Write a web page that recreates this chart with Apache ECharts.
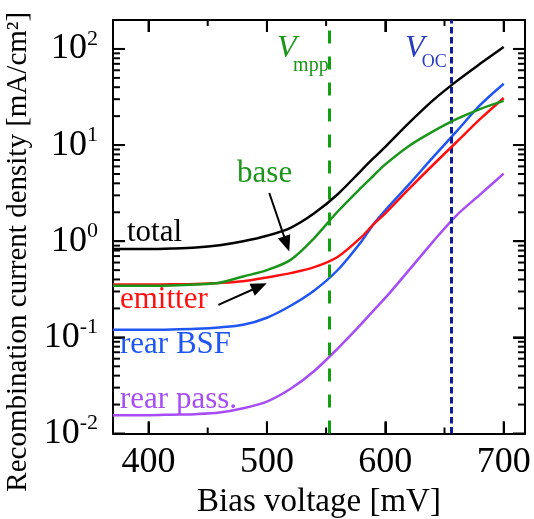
<!DOCTYPE html>
<html>
<head>
<meta charset="utf-8">
<script src="https://cdn.jsdelivr.net/npm/echarts@6/dist/echarts.min.js"></script>
<style>
html,body{margin:0;padding:0;background:#fff;}
#chart{width:534px;height:519px;}
</style>
</head>
<body>
<div id="chart"></div>
<script>
// ---- data ----
const voltage  = [370, 400, 420, 440, 460, 480, 500, 520, 540, 560, 580, 590, 600, 620, 640, 660, 680, 700];
const total    = [0.83, 0.83, 0.84, 0.86, 0.91, 1.0, 1.14, 1.38, 1.95, 3.1, 5.5, 7.3, 9.6, 17.0, 29, 46, 70, 105];
const base     = [0.345, 0.345, 0.347, 0.355, 0.37, 0.43, 0.5, 0.64, 1.08, 2.05, 3.65, 4.8, 6.3, 9.8, 13.8, 18.6, 23.7, 28.8];
const emitter  = [0.355, 0.355, 0.357, 0.36, 0.368, 0.383, 0.42, 0.466, 0.537, 0.69, 1.11, 1.5, 1.95, 3.5, 6.17, 10.7, 18.6, 30.9];
const rearBSF  = [0.12, 0.12, 0.121, 0.123, 0.127, 0.135, 0.16, 0.213, 0.307, 0.505, 1.0, 1.5, 2.1, 3.9, 7.4, 13.8, 26, 43.5];
const rearPass = [0.0155, 0.0155, 0.0157, 0.0159, 0.0165, 0.0183, 0.0215, 0.0292, 0.0447, 0.077, 0.139, 0.19, 0.257, 0.50, 0.98, 1.85, 3.05, 5.05];

const vMpp = 552.7;   // mV
const vOC  = 656;     // mV

const xMajorTicks = [400, 500, 600, 700];
const xMinorTicks = [450, 550, 650];
const yMajorTicks = [0.01, 0.1, 1, 10, 100];
const yMinorTicks = [];
[0.01, 0.1, 1, 10].forEach(d => { for (let k = 2; k <= 9; k++) yMinorTicks.push(+(d * k).toPrecision(3)); });

const curveNames = ['total', 'base', 'emitter', 'rear BSF', 'rear pass.'];
// annotation anchors in data coordinates [mV, current density]
const curveLabelAt = [[381.8, 1.21], [474.8, 4.97], [375.9, 0.248], [375.9, 0.0845], [375.9, 0.0226]];
const vTexts = [
  { text: 'V',   at: [508.5, 100],  size: 32, italic: true,  color: '#1b961b' },
  { text: 'mpp', at: [522.1, 67.6], size: 20, italic: false, color: '#1b961b' },
  { text: 'V',   at: [616.6, 100],  size: 32, italic: true,  color: '#2a3cc0' },
  { text: 'OC',  at: [630.8, 72.8], size: 18, italic: false, color: '#2a3cc0' }
];
const baseArrow = [[502.0, 3.17], [516.7, 0.935]];
const emitterArrow = [[459.0, 0.218], [493.7, 0.338]];

// ---- styling ----
const FONT = 'Liberation Serif';
const colors = ['#000000', '#1b961b', '#ff1010', '#1f55f2', '#a64df5'];
const seriesData = [total, base, emitter, rearBSF, rearPass];

const XMIN = 370, XMAX = 718, YMIN = 0.01, YMAX = 200;
const MAJOR_LEN = 12, MINOR_LEN = 7;

function xAxisCfg(pos, showLabel) {
  return {
    type: 'value', position: pos, min: XMIN, max: XMAX,
    axisLine: { show: true, onZero: false, lineStyle: { color: '#000', width: 2 } },
    axisTick: { show: true, inside: true, length: MAJOR_LEN, customValues: xMajorTicks, lineStyle: { color: '#000', width: 2 } },
    axisLabel: showLabel ? { show: true, customValues: xMajorTicks, margin: 11, fontSize: 36, fontFamily: FONT, color: '#000' } : { show: false },
    splitLine: { show: false },
    name: showLabel ? 'Bias voltage [mV]' : '',
    nameLocation: 'middle', nameGap: 50,
    nameTextStyle: { fontSize: 33, fontFamily: FONT, color: '#000' }
  };
}
function yAxisCfg(pos, showLabel) {
  return {
    type: 'log', logBase: 10, position: pos, min: YMIN, max: YMAX,
    axisLine: { show: true, onZero: false, lineStyle: { color: '#000', width: 2 } },
    axisTick: { show: true, inside: true, length: MAJOR_LEN, customValues: yMajorTicks, lineStyle: { color: '#000', width: 2 } },
    axisLabel: showLabel ? {
      show: true, customValues: yMajorTicks, margin: 15,
      formatter: v => '{b|10}{s|' + Math.round(Math.log10(v)) + '}',
      rich: {
        b: { fontSize: 36, fontFamily: FONT, color: '#000', lineHeight: 42, verticalAlign: 'middle' },
        s: { fontSize: 22, fontFamily: FONT, color: '#000', lineHeight: 22, verticalAlign: 'top' }
      }
    } : { show: false },
    splitLine: { show: false }, minorTick: { show: false },
    name: showLabel ? 'Recombination current density [mA/cm²]' : '',
    nameLocation: 'middle', nameGap: 68, nameRotate: 90,
    nameTextStyle: { fontSize: 29, fontFamily: FONT, color: '#000', padding: [0, 50, 0, 0] }
  };
}

// all tick marks (inside, mirrored on the four sides), placed through the axes' scales
const tickData = [];
xMajorTicks.forEach(v => tickData.push([v, YMIN, MAJOR_LEN, 0]));
xMinorTicks.forEach(v => tickData.push([v, YMIN, MINOR_LEN - 1, 0]));
yMajorTicks.forEach(v => tickData.push([XMIN, v, MAJOR_LEN, 1]));
yMinorTicks.forEach(v => tickData.push([XMIN, v, MINOR_LEN, 1]));

function vTextLabel(t) {
  return { show: true, formatter: t.text, position: 'inside', align: 'left', verticalAlign: 'middle',
           color: t.color, fontSize: t.size, fontStyle: t.italic ? 'italic' : 'normal', fontFamily: FONT };
}

function buildOption(variant) {
  const series = seriesData.map((vals, i) => {
    const labels = [{
      coord: curveLabelAt[i],
      label: { show: true, formatter: curveNames[i], position: 'inside', align: 'left', verticalAlign: 'middle',
               color: colors[i], fontSize: 31, fontFamily: FONT }
    }];
    if (i === 0 && variant.vt === 'mark') vTexts.forEach(t => labels.push({ coord: t.at, label: vTextLabel(t) }));
    return {
      name: curveNames[i], type: 'line', xAxisIndex: 0, yAxisIndex: 0,
      data: voltage.map((v, j) => [v, vals[j]]),
      showSymbol: false, symbol: 'none', smooth: 0.3,
      lineStyle: { color: colors[i], width: 2.5 },
      z: 5 - i + 2,
      markPoint: { symbol: 'circle', symbolSize: 0, data: labels }
    };
  });
  series.push({
    type: 'custom', coordinateSystem: 'cartesian2d', xAxisIndex: 0, yAxisIndex: 0,
    clip: false, z: 20, encode: { x: 0, y: 1 }, data: tickData,
    renderItem: (params, api) => {
      const v0 = api.value(0), v1 = api.value(1), len = api.value(2), isY = api.value(3);
      const st = () => ({ stroke: '#000', lineWidth: 2 });
      if (!isY) {
        const b = api.coord([v0, YMIN]), t = api.coord([v0, YMAX]);
        return { type: 'group', children: [
          { type: 'line', shape: { x1: b[0], y1: b[1], x2: b[0], y2: b[1] - len }, style: st() },
          { type: 'line', shape: { x1: t[0], y1: t[1], x2: t[0], y2: t[1] + len }, style: st() }
        ] };
      }
      const l = api.coord([XMIN, v1]), r = api.coord([XMAX, v1]);
      return { type: 'group', children: [
        { type: 'line', shape: { x1: l[0], y1: l[1], x2: l[0] + len, y2: l[1] }, style: st() },
        { type: 'line', shape: { x1: r[0], y1: r[1], x2: r[0] - len, y2: r[1] }, style: st() }
      ] };
    }
  });
  const arrowStyle = { color: '#000', width: 2, type: 'solid' };
  series.push({
    type: 'line', xAxisIndex: 0, yAxisIndex: 0, data: [], z: 8,
    markLine: {
      symbol: 'none', label: { show: false },
      data: [
        { xAxis: vMpp, lineStyle: { color: '#10a010', width: 3, type: [13, 13] } },
        { xAxis: vOC, lineStyle: { color: '#101c9a', width: 3, type: [6.5, 3.5] } },
        [ { coord: baseArrow[0], symbol: 'none', lineStyle: arrowStyle }, { coord: baseArrow[1], symbol: 'triangle', symbolSize: [13, 16] } ],
        [ { coord: emitterArrow[0], symbol: 'none', lineStyle: arrowStyle }, { coord: emitterArrow[1], symbol: 'triangle', symbolSize: [13, 16] } ]
      ]
    }
  });
  const grid = { left: 113, right: 9, top: 20, bottom: 85.5 };
  if (variant.grid === 'none' || variant.grid === 'none+cl') grid.outerBoundsMode = 'none';
  if (variant.grid === 'none+cl') grid.containLabel = false;
  return {
    animation: false, backgroundColor: '#fff', grid: grid,
    xAxis: [ xAxisCfg('bottom', true), xAxisCfg('top', false) ],
    yAxis: [ yAxisCfg('left', true), yAxisCfg('right', false) ],
    series: series
  };
}

const dom = document.getElementById('chart');
let chart = null;

function toPx(p) { return chart.convertToPixel({ xAxisIndex: 0, yAxisIndex: 0 }, p); }

function addGraphics(variant) {
  const els = [];
  if (variant.vt === 'graphic') {
    vTexts.forEach(t => {
      const p = toPx(t.at);
      els.push({ type: 'text', x: p[0], y: p[1], z: 30, silent: true,
        style: { text: t.text, fill: t.color, align: 'left', verticalAlign: 'middle',
                 font: (t.italic ? 'italic ' : '') + t.size + 'px "' + FONT + '"' } });
    });
  }
  if (variant.tickGraphic) {
    tickData.forEach(d => {
      const st = { stroke: '#000', lineWidth: 2 };
      if (!d[3]) {
        const b = toPx([d[0], YMIN]), t = toPx([d[0], YMAX]);
        els.push({ type: 'line', z: 30, silent: true, shape: { x1: b[0], y1: b[1], x2: b[0], y2: b[1] - d[2] }, style: st });
        els.push({ type: 'line', z: 30, silent: true, shape: { x1: t[0], y1: t[1], x2: t[0], y2: t[1] + d[2] }, style: Object.assign({}, st) });
      } else {
        const l = toPx([XMIN, d[1]]), r = toPx([XMAX, d[1]]);
        els.push({ type: 'line', z: 30, silent: true, shape: { x1: l[0], y1: l[1], x2: l[0] + d[2], y2: l[1] }, style: st });
        els.push({ type: 'line', z: 30, silent: true, shape: { x1: r[0], y1: r[1], x2: r[0] - d[2], y2: r[1] }, style: Object.assign({}, st) });
      }
    });
  }
  if (els.length) chart.setOption({ graphic: { elements: els } });
}

function render(variant) {
  if (chart) echarts.dispose(chart);
  chart = echarts.init(dom, null, { renderer: 'canvas' });
  chart.setOption(buildOption(variant));
  addGraphics(variant);
}

function isDark(x, y) {
  const cv = dom.querySelector('canvas');
  if (!cv) return false;
  const d = cv.getContext('2d').getImageData(Math.round(x) - 1, Math.round(y) - 1, 3, 3).data;
  for (let i = 0; i < d.length; i += 4) if (d[i + 3] > 128 && d[i] + d[i + 1] + d[i + 2] < 300) return true;
  return false;
}
function ticksOk() {
  try {
    const a = toPx([400, YMIN]), b = toPx([450, YMIN]), c = toPx([XMIN, 1]), e = toPx([XMIN, 0.5]);
    return isDark(a[0], a[1] - 6) && isDark(b[0], b[1] - 4) && isDark(c[0] + 6, c[1]) && isDark(e[0] + 4, e[1]);
  } catch (err) { return false; }
}

const variants = [
  { grid: 'none+cl', vt: 'mark' },
  { grid: 'none', vt: 'mark' },
  { grid: 'none+cl', vt: 'graphic' },
  { grid: 'none', vt: 'graphic' },
  { grid: 'plain', vt: 'graphic' },
  { grid: 'none+cl', vt: 'graphic', tickGraphic: true }
];
let chosen = null;
for (const v of variants) {
  try { render(v); } catch (err) { continue; }
  if (ticksOk()) { chosen = v; break; }
}
if (!chosen) render(variants[variants.length - 1]);
</script>
</body>
</html>
